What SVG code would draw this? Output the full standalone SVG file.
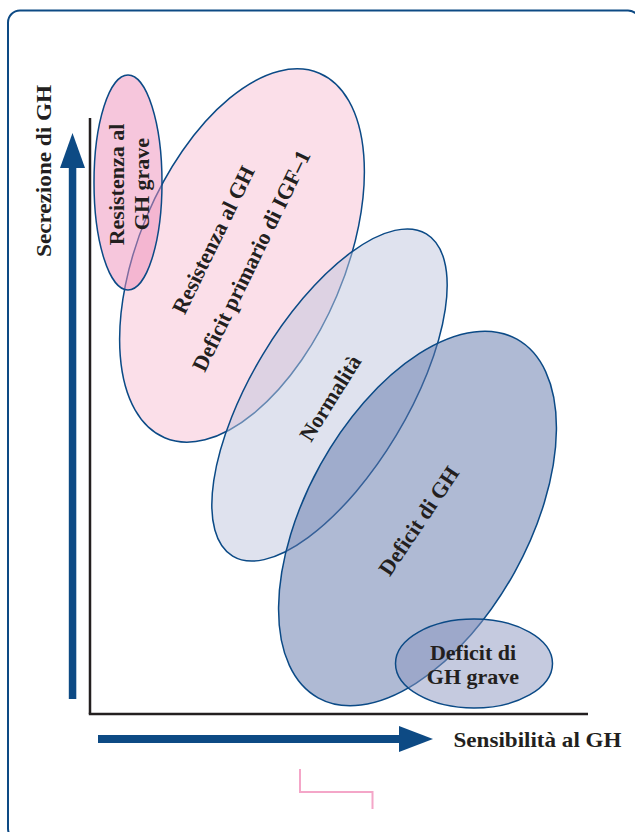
<svg xmlns="http://www.w3.org/2000/svg" width="635" height="832" viewBox="0 0 635 832">
<style>
.lbl{font-family:"Liberation Serif","Times New Roman",serif;font-weight:bold;font-size:22px;fill:#231f20;text-anchor:middle}
.ell{stroke:#0b4a86;stroke-width:1.5}
.blue{fill:#0d4a84}
</style>
<rect x="8" y="10.5" width="632" height="830" rx="12" fill="#fff" stroke="#0d4a84" stroke-width="2"/>
<g id="connectors">
<line x1="90" y1="118" x2="90" y2="714" stroke="#231f20" stroke-width="2.5"/>
<line x1="88.8" y1="714" x2="588" y2="714" stroke="#231f20" stroke-width="2.5"/>
<rect class="blue" x="68.8" y="165" width="7.5" height="534"/>
<polygon class="blue" points="72.5,133 85,168 60,168"/>
<rect class="blue" x="98" y="735" width="304" height="8"/>
<polygon class="blue" points="433,739 399,726 399,752"/>
</g>
<g id="axis-y-label"><text class="lbl" transform="translate(51,171) rotate(-90)" textLength="172" lengthAdjust="spacingAndGlyphs">Secrezione di GH</text></g>
<g id="axis-x-label"><text class="lbl" x="537.5" y="747" textLength="168" lengthAdjust="spacingAndGlyphs">Sensibilità al GH</text></g>
<g id="node-resistenza">
<ellipse class="ell" cx="242" cy="255.5" rx="198" ry="103" transform="rotate(-67 242 255.5)" fill="#f7bfd3" fill-opacity="0.5"/>
<text class="lbl" transform="translate(220,243) rotate(-64)">Resistenza al GH</text>
<text class="lbl" transform="translate(258,264) rotate(-64)">Deficit primario di IGF–1</text>
</g>
<g id="node-resistenza-grave">
<ellipse class="ell" cx="128" cy="182.5" rx="34" ry="107.5" fill="#ed8db9" fill-opacity="0.5"/>
<text class="lbl" transform="translate(124,184.5) rotate(-90)">Resistenza al</text>
<text class="lbl" transform="translate(149,184) rotate(-90)">GH grave</text>
</g>
<g id="node-normalita">
<ellipse class="ell" cx="329.5" cy="395" rx="188" ry="78" transform="rotate(-59 329.5 395)" fill="#bfc5dd" fill-opacity="0.5"/>
<text class="lbl" transform="translate(336.5,402) rotate(-58)">Normalità</text>
</g>
<g id="node-deficit">
<ellipse class="ell" cx="417.5" cy="518.5" rx="205" ry="111" transform="rotate(-61 417.5 518.5)" fill="#5f75a9" fill-opacity="0.5"/>
<text class="lbl" transform="translate(425,525) rotate(-56)">Deficit di GH</text>
</g>
<g id="node-deficit-grave">
<ellipse class="ell" cx="474" cy="663.5" rx="78.5" ry="44.5" fill="#8b95bf" fill-opacity="0.5"/>
<text class="lbl" x="473" y="660">Deficit di</text>
<text class="lbl" x="473" y="684">GH grave</text>
</g>
<polyline points="300,769 300,792 372.5,792 372.5,809" fill="none" stroke="#f4a6c8" stroke-width="2"/>
</svg>
